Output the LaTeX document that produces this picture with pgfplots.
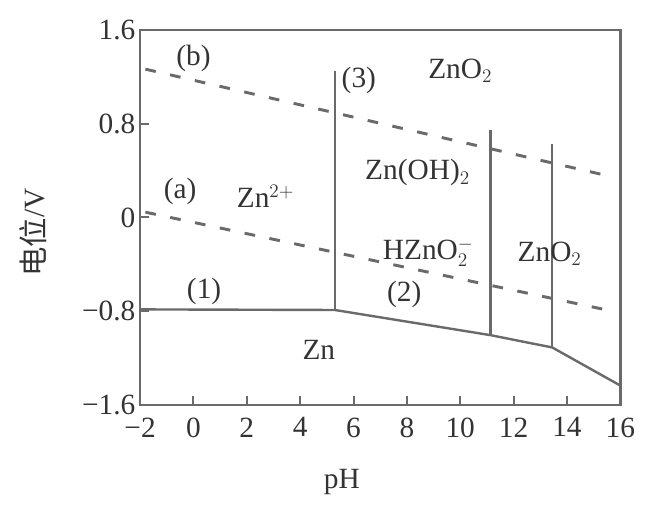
\documentclass[border=0pt]{standalone}
\usepackage{pgfplots}
\pgfplotsset{compat=1.18}
\usepackage{fontspec}
\setmainfont{Liberation Serif}
\newfontfamily\cjk{Noto Sans CJK SC}
\definecolor{ink}{HTML}{6A6A6A}
\definecolor{txt}{HTML}{333333}
\begin{document}
\begin{tikzpicture}
\begin{axis}[
  scale only axis, width=360pt, height=281pt,
  xmin=-2, xmax=16, ymin=-1.6, ymax=1.6,
  xtick={-2,0,...,16}, xticklabels={−2,0,2,4,6,8,10,12,14,16},
  ytick={-1.6,-0.8,0,0.8,1.6}, yticklabels={−1.6,−0.8,0,0.8,1.6},
  tick align=inside, xtick pos=left, ytick pos=left, major tick length=7pt,
  tick style={line width=1.5pt, ink},
  axis line style={line width=2pt, ink},
  ticklabel style={font=\fontsize{22}{24}\selectfont, text=txt},
  xticklabel style={yshift=-6pt},
  xlabel={pH}, ylabel={{\cjk 电位}/V},
  every axis x label/.style={at={(axis description cs:0.42,-0.205)}, anchor=center},
  every axis y label/.style={at={(axis description cs:-0.222,0.46)}, anchor=center, rotate=90},
  label style={font=\fontsize{22}{24}\selectfont, text=txt},
  clip=false,
]
\addplot[ink, line width=1.8pt] coordinates {(-2,-0.785) (5.3,-0.79) (11.14,-1.005) (13.45,-1.11) (16,-1.435)};
\addplot[ink, line width=1.8pt] coordinates {(5.3,-0.79) (5.3,1.25)};
\addplot[ink, line width=1.8pt] coordinates {(11.14,-1.005) (11.14,0.75)};
\addplot[ink, line width=1.8pt] coordinates {(13.45,-1.11) (13.45,0.63)};
\addplot[ink, line width=2.2pt, dash pattern=on 8pt off 11pt] coordinates {(-1.8,0.045) (15.7,-0.80)};
\addplot[ink, line width=2.2pt, dash pattern=on 8pt off 11pt] coordinates {(-1.8,1.266) (15.6,0.352)};
\begin{scope}[every node/.style={font=\fontsize{22}{24}\selectfont, text=txt}]
\node at (axis cs:0.0,1.36) {(b)};
\node at (axis cs:6.2,1.17) {(3)};
\node at (axis cs:10.0,1.25) {ZnO$_2$};
\node at (axis cs:8.4,0.38) {Zn(OH)$_2$};
\node at (axis cs:2.7,0.18) {Zn$^{2+}$};
\node at (axis cs:-0.5,0.22) {(a)};
\node at (axis cs:8.8,-0.30) {HZnO$_2^-$};
\node at (axis cs:13.35,-0.31) {ZnO$_2$};
\node at (axis cs:0.4,-0.63) {(1)};
\node at (axis cs:7.9,-0.66) {(2)};
\node at (axis cs:4.7,-1.13) {Zn};
\end{scope}
\end{axis}
\pgfresetboundingbox
\path[use as bounding box] (-105pt,-85pt) rectangle (392pt,303.5pt);
\end{tikzpicture}
\end{document}
